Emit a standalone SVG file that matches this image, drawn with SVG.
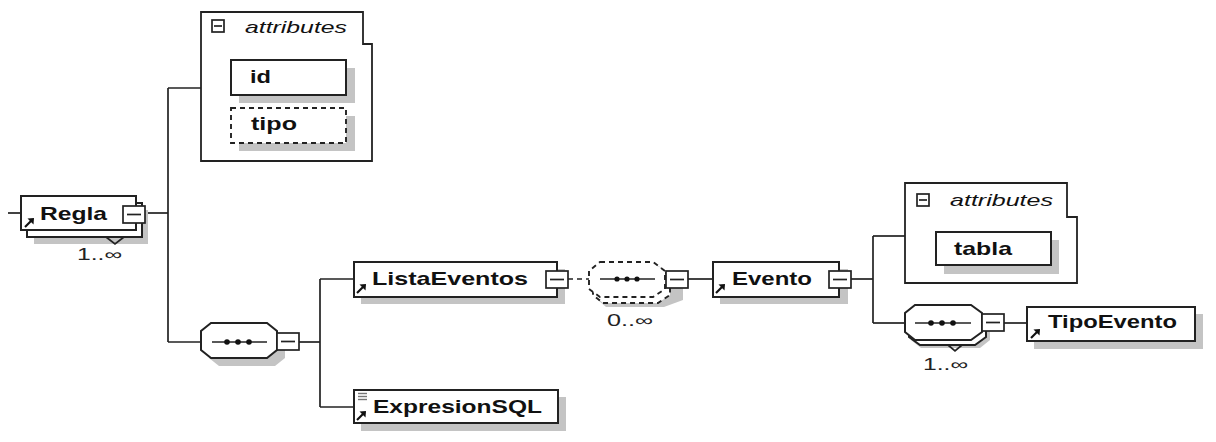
<svg xmlns="http://www.w3.org/2000/svg" width="1216" height="442" viewBox="0 0 1216 442">
<style>
.bg{fill:#ffffff}
.ln{stroke:#222;stroke-width:1.7;fill:none}
.box{fill:#fff;stroke:#222;stroke-width:2}
.dbox{fill:#fff;stroke:#222;stroke-width:1.9;stroke-dasharray:5 4}
.sh{fill:#c4c4c4}
.cont{fill:#fff;stroke:#222;stroke-width:1.8}
.mb{fill:#fff;stroke:#222;stroke-width:1.7}
.t{font-family:"Liberation Sans",Arial,sans-serif;font-weight:bold;font-size:19px;fill:#111}
.at{font-family:"Liberation Sans",Arial,sans-serif;font-style:italic;font-size:17px;fill:#111}
.m{font-family:"Liberation Sans",Arial,sans-serif;font-size:16px;fill:#222}
.ic{stroke:#111;stroke-width:2.2;fill:none}
.dot{fill:#111}
</style>
<defs>
<g id="minus"><rect class="mb" x="0" y="0" width="22" height="17"/><line class="ln" x1="4" y1="8.5" x2="18" y2="8.5"/></g>
<g id="ref"><path class="ic" d="M0 9 L6 3"/><path d="M2.5 0.5 L9 0 L8.5 6.5 Z" fill="#111"/></g>
</defs>
<rect class="bg" x="0" y="0" width="1216" height="442"/>

<g id="connectors">
<line class="ln" x1="8" y1="213" x2="21" y2="213"/>
<line class="ln" x1="146" y1="213" x2="168" y2="213"/>
<line class="ln" x1="168" y1="88" x2="168" y2="342"/>
<line class="ln" x1="168" y1="88" x2="201" y2="88"/>
<line class="ln" x1="168" y1="342" x2="201" y2="342"/>
<line class="ln" x1="298" y1="342" x2="320" y2="342"/>
<line class="ln" x1="320" y1="279" x2="320" y2="407"/>
<line class="ln" x1="320" y1="279" x2="354" y2="279"/>
<line class="ln" x1="320" y1="407" x2="354" y2="407"/>
<line class="ln" x1="568" y1="279" x2="589" y2="279" stroke-dasharray="5 4"/>
<line class="ln" x1="688" y1="279" x2="713" y2="279"/>
<line class="ln" x1="851" y1="279" x2="873" y2="279"/>
<line class="ln" x1="873" y1="236" x2="873" y2="323"/>
<line class="ln" x1="873" y1="236" x2="905" y2="236"/>
<line class="ln" x1="873" y1="323" x2="905" y2="323"/>
<line class="ln" x1="1003" y1="323" x2="1027" y2="323"/>
</g>

<g id="Regla">
<rect class="sh" x="34" y="210" width="114" height="34"/>
<rect class="box" x="27" y="203" width="115" height="34"/>
<rect class="box" x="21" y="196" width="115" height="34"/>
<polyline class="ln" points="106,237 115,244 124,237"/>
<use href="#ref" x="25" y="218"/>
<text class="t" x="40" y="220" textLength="67" lengthAdjust="spacingAndGlyphs">Regla</text>
<use href="#minus" x="123" y="206"/>
<text class="m" x="77" y="260" textLength="45" lengthAdjust="spacingAndGlyphs">1..∞</text>
</g>

<g id="attributes-regla">
<path class="cont" d="M201 12 H363 V44 H372 V161 H201 Z"/>
<rect class="mb" x="212" y="20" width="12" height="12"/>
<line class="ln" x1="214" y1="26" x2="222" y2="26"/>
<text class="at" x="245" y="33" textLength="102" lengthAdjust="spacingAndGlyphs">attributes</text>
<g id="id">
<rect class="sh" x="239" y="68" width="116" height="35"/>
<rect class="box" x="231" y="60" width="115" height="35"/>
<text class="t" x="250" y="83" textLength="21" lengthAdjust="spacingAndGlyphs">id</text>
</g>
<g id="tipo">
<rect class="sh" x="239" y="116" width="116" height="35"/>
<rect class="dbox" x="231" y="108" width="115" height="35"/>
<text class="t" x="251" y="130" textLength="46" lengthAdjust="spacingAndGlyphs">tipo</text>
</g>
</g>

<g id="sequence1">
<polygon class="sh" points="219,331 275,331 285,339 285,358 275,366 219,366 209,358 209,339"/>
<polygon class="box" points="211,323 267,323 277,331 277,350 267,358 211,358 201,350 201,331"/>
<line class="ln" x1="212" y1="342" x2="267" y2="342"/>
<circle class="dot" cx="227" cy="342" r="2.8"/><circle class="dot" cx="238" cy="342" r="2.8"/><circle class="dot" cx="249" cy="342" r="2.8"/>
<use href="#minus" x="277" y="333"/>
</g>

<g id="ListaEventos">
<rect class="sh" x="361" y="269" width="204" height="35"/>
<rect class="box" x="354" y="262" width="203" height="35"/>
<use href="#ref" x="357" y="284"/>
<text class="t" x="372" y="285" textLength="156" lengthAdjust="spacingAndGlyphs">ListaEventos</text>
<use href="#minus" x="546" y="271"/>
</g>

<g id="ExpresionSQL">
<rect class="sh" x="361" y="397" width="205" height="34"/>
<rect class="box" x="354" y="390" width="204" height="33"/>
<line x1="358" y1="393.5" x2="367" y2="393.5" stroke="#777" stroke-width="1.4"/>
<line x1="358" y1="396.5" x2="367" y2="396.5" stroke="#777" stroke-width="1.4"/>
<line x1="358" y1="399.5" x2="367" y2="399.5" stroke="#777" stroke-width="1.4"/>
<use href="#ref" x="357" y="411"/>
<text class="t" x="373" y="413" textLength="169" lengthAdjust="spacingAndGlyphs">ExpresionSQL</text>
</g>

<g id="sequence2">
<polygon class="sh" points="606,276 664,276 683,284 683,300 664,307 606,307 598,300 598,284"/>
<polygon class="dbox" points="603,267 658,267 670,277 670,295 658,303 603,303 593,295 593,277"/>
<polygon class="dbox" points="600,262 653,262 665,271 665,289 653,297 600,297 589,289 589,271"/>
<line class="ln" x1="600" y1="279" x2="655" y2="279"/>
<circle class="dot" cx="617" cy="279" r="2.6"/><circle class="dot" cx="627" cy="279" r="2.6"/><circle class="dot" cx="637" cy="279" r="2.6"/>
<use href="#minus" x="666" y="271"/>
<text class="m" x="607" y="326" textLength="46" lengthAdjust="spacingAndGlyphs">0..∞</text>
</g>

<g id="Evento">
<rect class="sh" x="720" y="269" width="128" height="35"/>
<rect class="box" x="713" y="262" width="126" height="35"/>
<use href="#ref" x="716" y="284"/>
<text class="t" x="732" y="285" textLength="80" lengthAdjust="spacingAndGlyphs">Evento</text>
<use href="#minus" x="829" y="271"/>
</g>

<g id="attributes-evento">
<path class="cont" d="M905 183 H1067 V217 H1077 V283 H905 Z"/>
<rect class="mb" x="917" y="194" width="12" height="12"/>
<line class="ln" x1="919" y1="200" x2="927" y2="200"/>
<text class="at" x="950" y="206" textLength="103" lengthAdjust="spacingAndGlyphs">attributes</text>
<g id="tabla">
<rect class="sh" x="944" y="240" width="115" height="34"/>
<rect class="box" x="936" y="232" width="115" height="33"/>
<text class="t" x="954" y="255" textLength="58" lengthAdjust="spacingAndGlyphs">tabla</text>
</g>
</g>

<g id="sequence3">
<polygon class="sh" points="921,313 980,313 990,321 990,340 980,348 921,348 911,340 911,321"/>
<polygon class="box" points="920,310 975,310 986,318 986,337 975,345 920,345 909,337 909,318"/>
<polyline class="ln" points="948,345 955,351 962,345"/>
<polygon class="box" points="915,305 971,305 982,313 982,332 971,340 915,340 905,332 905,313"/>
<line class="ln" x1="915" y1="323" x2="971" y2="323"/>
<circle class="dot" cx="931" cy="323" r="2.8"/><circle class="dot" cx="942" cy="323" r="2.8"/><circle class="dot" cx="953" cy="323" r="2.8"/>
<use href="#minus" x="982" y="314"/>
<text class="m" x="923" y="370" textLength="45" lengthAdjust="spacingAndGlyphs">1..∞</text>
</g>

<g id="TipoEvento">
<rect class="sh" x="1034" y="314" width="169" height="35"/>
<rect class="box" x="1027" y="307" width="168" height="34"/>
<use href="#ref" x="1031" y="329"/>
<text class="t" x="1048" y="328" textLength="129" lengthAdjust="spacingAndGlyphs">TipoEvento</text>
</g>
</svg>
